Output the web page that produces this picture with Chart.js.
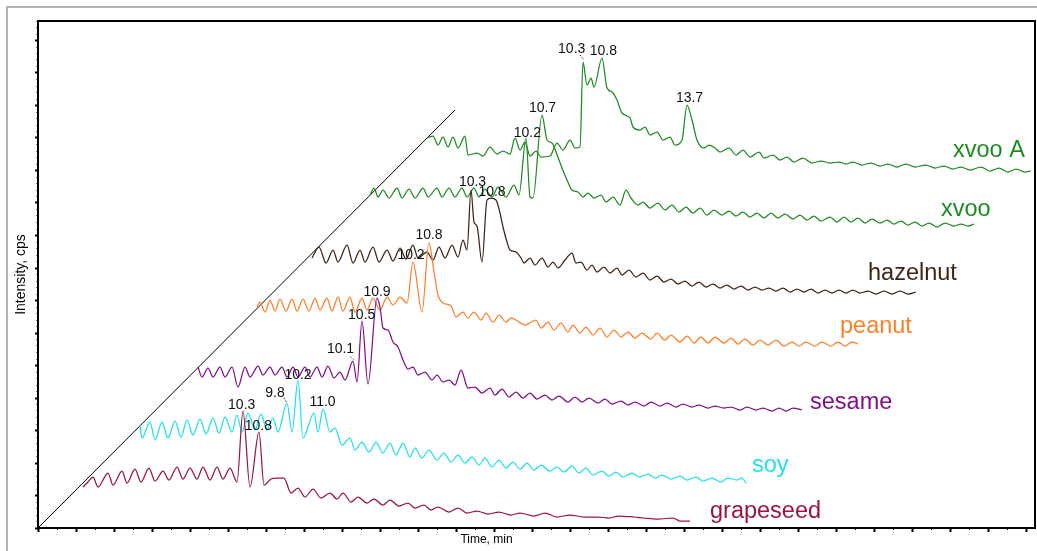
<!DOCTYPE html>
<html><head><meta charset="utf-8">
<script src="https://cdn.jsdelivr.net/npm/chart.js@4"></script>
<style>
html,body{margin:0;padding:0;background:#fff;}
#wrap{position:relative;width:1037px;height:551px;overflow:hidden;}
#frame{position:absolute;left:6px;top:6px;width:1100px;height:600px;border-top:2px solid #b3b3b3;border-left:2px solid #b3b3b3;}
canvas{position:absolute;left:0;top:0;}
</style></head>
<body><div id="wrap"><div id="frame"></div><canvas id="c" width="1037" height="551"></canvas></div>
<script>
// ---- data (time units, intensity units) ----
const seriesNames = ['grapeseed','soy','sesame','peanut','hazelnut','xvoo','xvoo A'];

const grapeseedT = [45,50,55,60,70,75,84,89,97,103,111,117,125,131,139,145,152,159,165,172,179,185,192,199,205,212,221,226,233,239,246,253,260,267,275,283,292,299,305,313,320,329,336,345,352,361,370,377,386,393,400,411,420,429,439,450,461,473,482,496,507,519,532,546,560,571,581,596,606,620,635,642,652];
const grapeseedI = [41,46,51,41,55,43,57,45,59,46,60,47,57,48,61,49,60,49,61,48,61,49,60,46,117,41,96,43,49,50,50,35,40,31,39,30,35,29,35,26,31,25,29,23,28,22,25,20,23,18,21,16,20,15,17,14,16,13,15,12,15,11,13,11,11,10,12,11,10,9,10,7,7];

const soyT = [102,104,112,117,124,130,137,143,149,155,162,168,175,181,187,194,199,204,210,217,223,229,235,240,249,254,260,265,276,280,285,292,297,304,312,317,324,331,338,345,352,358,365,372,377,384,391,399,406,413,420,427,434,441,447,454,461,468,475,482,489,496,503,512,519,526,534,541,548,555,564,571,578,585,594,601,610,617,624,633,642,649,658,665,674,683,690,699,704,708];
const soyI = [103,90,106,88,106,90,107,91,108,93,109,94,110,95,111,96,113,96,115,98,114,98,110,96,125,96,148,90,115,96,119,96,100,83,90,78,86,76,86,75,85,73,85,71,80,70,78,68,75,66,73,65,71,63,70,61,68,60,66,59,65,58,63,57,61,56,62,55,60,53,57,52,56,51,55,51,54,50,53,49,52,48,51,47,50,46,50,48,50,45];

const sesameT = [160,164,170,175,182,187,194,200,207,212,220,225,232,237,244,249,255,260,267,272,279,284,290,296,302,307,315,319,324,330,339,342,345,350,355,360,365,370,375,380,387,394,399,405,411,417,423,430,437,444,452,457,464,471,478,485,492,499,507,514,521,530,537,544,551,560,567,574,583,590,597,606,613,622,629,638,645,654,661,670,677,686,693,702,709,718,725,734,741,748,755,764];
const sesameI = [161,151,160,151,161,151,161,141,161,151,162,153,161,153,161,151,161,151,161,151,161,151,162,150,156,148,167,146,207,144,230,221,200,198,186,181,168,159,161,153,156,148,153,146,148,143,158,140,141,135,140,133,139,131,136,130,135,129,133,128,132,126,131,126,130,125,129,124,127,123,126,122,126,122,125,121,124,121,123,120,122,120,121,118,121,118,120,117,120,117,120,118];

const peanutT = [219,222,227,232,237,242,248,254,259,265,271,277,282,289,294,300,305,312,317,324,329,335,342,349,355,362,369,375,384,391,396,400,405,413,418,425,430,436,443,448,455,461,468,473,478,487,498,503,510,516,523,530,535,542,548,555,562,569,576,583,590,597,604,613,619,627,633,642,649,656,663,670,677,686,693,700,707,715,722,730,738,746,754,761,768,777,784,793,800,807,814,820];
const peanutI = [221,226,216,228,217,229,217,229,217,229,217,230,218,230,217,231,217,231,216,230,218,230,218,231,223,231,225,266,216,285,256,233,225,222,211,216,210,216,208,215,206,213,206,210,208,203,208,200,206,198,205,196,203,195,201,193,200,191,198,191,196,190,195,189,195,188,193,186,192,185,191,185,191,185,190,184,189,183,188,183,188,182,186,182,186,182,186,182,186,182,186,184];

const hazelnutT = [274,281,288,295,300,309,315,322,327,335,341,349,355,362,368,375,380,389,395,401,407,414,420,425,429,433,436,439,444,449,453,458,462,465,469,472,478,483,486,492,497,504,510,515,520,527,534,538,543,549,554,559,566,572,579,584,591,598,605,612,619,626,633,640,647,654,661,668,675,682,689,696,703,710,717,724,731,738,745,752,759,766,773,780,787,794,801,808,815,822,830,838,846,854,862,870,878];
const hazelnutI = [270,281,265,278,266,283,265,278,266,281,266,278,267,280,269,283,270,276,268,281,270,283,271,288,278,338,306,302,266,328,330,328,315,301,286,278,276,270,265,270,263,270,261,266,260,268,275,265,266,258,263,256,261,255,260,253,258,251,255,248,252,246,249,244,247,242,246,241,244,240,243,239,242,238,241,238,240,237,240,236,239,236,239,235,238,235,238,235,238,235,237,234,237,234,237,234,236];

const xvooT = [332,336,340,345,351,359,364,371,377,385,390,399,404,411,417,424,429,436,441,447,454,460,468,476,481,488,492,495,504,509,514,518,524,529,534,540,545,550,556,563,568,575,582,588,593,600,605,612,620,627,634,641,648,655,662,669,676,684,691,698,705,712,719,726,733,740,747,755,762,769,776,783,792,799,806,813,820,827,834,842,849,856,863,870,877,884,891,899,907,916,923,930,936];
const xvooI = [333,340,331,338,330,340,330,339,330,340,331,340,331,340,331,340,331,340,331,339,331,341,331,343,333,390,331,330,413,388,385,376,360,348,338,336,331,335,330,333,326,331,323,338,330,323,326,320,325,318,323,316,321,315,320,313,318,313,317,312,316,311,315,310,315,310,314,309,313,308,312,307,311,306,311,306,310,305,309,305,308,304,307,303,306,302,305,301,305,302,304,302,304];

const xvooAT = [389,395,400,405,410,415,420,427,430,439,445,452,459,465,472,477,482,487,492,498,503,512,519,525,532,537,542,545,549,553,556,564,569,574,579,584,592,595,602,607,612,619,625,632,637,644,649,654,659,666,671,677,682,691,698,705,712,721,726,735,742,749,756,765,774,783,792,801,808,815,824,833,842,850,859,868,877,888,897,906,915,923,932,943,952,961,970,978,987,993];
const xvooAI = [390,392,383,391,381,391,380,392,373,375,372,381,374,377,374,390,378,386,372,377,371,372,385,378,388,380,381,466,443,450,441,470,440,436,428,415,410,401,398,401,393,396,388,391,383,388,423,408,388,380,383,380,376,380,373,378,371,376,370,373,368,371,366,370,365,367,365,366,364,366,363,365,362,364,361,364,361,363,360,362,359,361,358,361,357,360,356,359,356,357];

// offset baseline (waterfall origin line)
const originT = [0, 417];
const originI = [0, 418];

// peak annotations
const peakText = ['10.3','10.8','9.8','10.2','11.0','10.1','10.5','10.9','10.2','10.8','10.3','10.8','10.2','10.7','10.3','10.8','13.7'];
const peakT = [203.7,220.3,237,260,284.5,302.5,323.7,339,373,391,434.5,454,489.3,504.5,533.7,565.3,651.5];
const peakI = [123,102,135,153,125.5,179,213.3,236.3,272.7,292.7,346,335.7,395,420,479,477,429.7];

// leader lines for a few peak labels
const leaderT = [[246,249],[312.5,315.5],[542,546]];
const leaderI = [[130,125],[171,168.5],[473,468]];

// series name label anchors
const nameT = [672,714,772,802,830,903,915];
const nameI = [10,56,119,195,248,312,371];

// ---- styles ----
const seriesColors = ['#9c1446','#22e0ee','#80108a','#ff7f2a','#3e2616','#1f8a22','#1f8a22'];
const FONT = "'Liberation Sans', Arial, Helvetica, sans-serif";

const traceT = [grapeseedT, soyT, sesameT, peanutT, hazelnutT, xvooT, xvooAT];
const traceI = [grapeseedI, soyI, sesameI, peanutI, hazelnutI, xvooI, xvooAI];

const datasets = seriesNames.map((n, k) => ({
  label: n,
  data: traceT[k].map((t, j) => ({x: t, y: traceI[k][j]})),
  borderColor: seriesColors[k],
  borderWidth: 1.25,
  pointRadius: 0,
  fill: false,
  cubicInterpolationMode: 'monotone'
}));
leaderT.forEach((lt, k) => datasets.push({
  label: 'leader' + k,
  data: lt.map((t, j) => ({x: t, y: leaderI[k][j]})),
  borderColor: '#222', borderWidth: 1, borderDash: [1.5, 1.5], pointRadius: 0, fill: false
}));
datasets.push({
  label: 'origin',
  data: originT.map((t, j) => ({x: t, y: originI[j]})),
  borderColor: '#000', borderWidth: 1, pointRadius: 0, fill: false
});

const framePlugin = {
  id: 'frame',
  afterDraw(chart) {
    const {ctx, chartArea: a} = chart;
    ctx.save();
    ctx.strokeStyle = '#000';
    ctx.lineWidth = 2;
    ctx.strokeRect(a.left, a.top, a.right - a.left, a.bottom - a.top);
    ctx.restore();
  }
};

const labelPlugin = {
  id: 'labels',
  afterDatasetsDraw(chart) {
    const {ctx} = chart;
    const xs = chart.scales.x, ys = chart.scales.y;
    ctx.save();
    ctx.font = '14px ' + FONT;
    ctx.fillStyle = '#111';
    ctx.textAlign = 'center';
    ctx.textBaseline = 'middle';
    peakText.forEach((s, k) => ctx.fillText(s, xs.getPixelForValue(peakT[k]), ys.getPixelForValue(peakI[k])));
    ctx.font = '23.5px ' + FONT;
    ctx.textAlign = 'left';
    ctx.textBaseline = 'alphabetic';
    seriesNames.forEach((s, k) => {
      ctx.fillStyle = seriesColors[k];
      ctx.fillText(s, xs.getPixelForValue(nameT[k]), ys.getPixelForValue(nameI[k]));
    });
    ctx.restore();
  }
};

new Chart(document.getElementById('c'), {
  type: 'line',
  data: {datasets},
  options: {
    responsive: false,
    animation: false,
    events: [],
    layout: {padding: {top: 21, right: 2, left: 0, bottom: 0}},
    plugins: {legend: {display: false}, tooltip: {enabled: false}},
    scales: {
      x: {
        type: 'linear', position: 'bottom', min: 0, max: 997, weight: 1,
        ticks: {display: false, stepSize: 38, includeBounds: false},
        grid: {drawOnChartArea: false, drawTicks: true, tickLength: 4, tickColor: '#000', tickWidth: 2},
        border: {display: false},
        title: {display: true, text: 'Time, min' + ' '.repeat(30), color: '#000', font: {family: FONT, size: 12}, padding: {top: 0, bottom: 4}},
        afterFit(s) { s.height = 23; }
      },
      xm: {
        type: 'linear', position: 'bottom', min: 0, max: 997, weight: 0,
        ticks: {display: false, stepSize: 19, includeBounds: false},
        grid: {drawOnChartArea: false, drawTicks: true, tickLength: 2, tickColor: '#000', tickWidth: 1},
        border: {display: false},
        afterFit(s) { s.height = 0; }
      },
      y: {
        type: 'linear', position: 'left', min: 0, max: 507, weight: 1,
        ticks: {display: false, stepSize: 32.5, includeBounds: false},
        grid: {drawOnChartArea: false, drawTicks: true, tickLength: 3, tickColor: '#000', tickWidth: 2},
        border: {display: false},
        title: {display: true, text: 'Intensity, cps', color: '#000', font: {family: FONT, size: 14}, padding: {top: 13, bottom: 0}},
        afterFit(s) { s.width = 38; }
      },
      ym: {
        type: 'linear', position: 'left', min: 0, max: 507, weight: 0,
        ticks: {display: false, stepSize: 6.5, includeBounds: false},
        grid: {drawOnChartArea: false, drawTicks: true, tickLength: 1.5, tickColor: '#000', tickWidth: 1},
        border: {display: false},
        afterFit(s) { s.width = 0; }
      }
    }
  },
  plugins: [framePlugin, labelPlugin]
});
</script>
</body></html>
